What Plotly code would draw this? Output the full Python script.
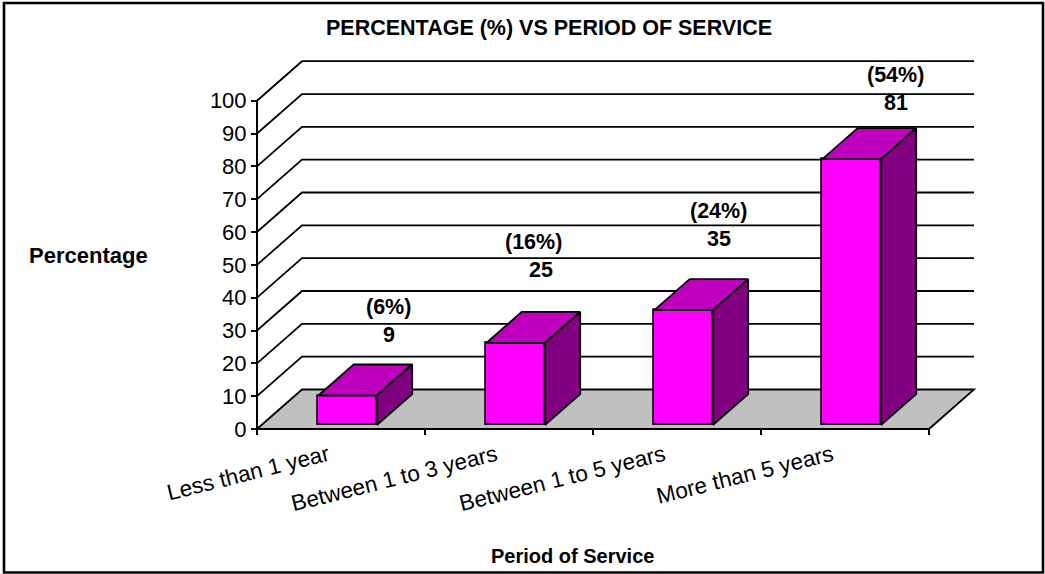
import plotly.graph_objects as go

categories = ["Less than 1 year", "Between 1 to 3 years", "Between 1 to 5 years", "More than 5 years"]
counts = [9, 25, 35, 81]
percent_labels = ["(6%)", "(16%)", "(24%)", "(54%)"]
y_ticks = [0, 10, 20, 30, 40, 50, 60, 70, 80, 90, 100]

W, H = 1045, 574
PX_X0, PX_CAT = 257.0, 168.0      # left of axis, pixels per category
PX_Y0, PX_UNIT = 429.0, 3.283     # zero line, pixels per value unit
DEPTH_X = 45.0 / PX_CAT           # depth of the box in axis units
DEPTH_Y = 39.5 / PX_UNIT
BAR_W = 58.5 / PX_CAT
D0, D1 = 0.125, 0.91              # bar front/back in the depth
BLACK = "#000000"
LW = 1.8

x_range = [-0.5 - PX_X0 / PX_CAT, -0.5 + (W - PX_X0) / PX_CAT]
y_range = [-(H - PX_Y0) / PX_UNIT, PX_Y0 / PX_UNIT]
x_left, x_right = -0.5, len(categories) - 0.5

def path(points, close=False):
    s = "M " + " L ".join(f"{a:.4f},{b:.4f}" for a, b in points)
    return s + (" Z" if close else "")

shapes = []
# floor
shapes.append(dict(type="path", layer="below", xref="x", yref="y",
                   path=path([(x_left, 0), (x_left + DEPTH_X, DEPTH_Y), (x_right + DEPTH_X, DEPTH_Y), (x_right, 0)], True),
                   fillcolor="#C0C0C0", line=dict(color=BLACK, width=LW)))
# gridlines on side + back wall
for t in y_ticks[1:]:
    shapes.append(dict(type="path", layer="below", xref="x", yref="y",
                       path=path([(x_left, t), (x_left + DEPTH_X, t + DEPTH_Y), (x_right + DEPTH_X, t + DEPTH_Y)]),
                       line=dict(color=BLACK, width=LW)))
# axis lines
shapes.append(dict(type="line", layer="below", xref="x", yref="y", x0=x_left, x1=x_left, y0=0, y1=y_ticks[-1],
                   line=dict(color=BLACK, width=LW + 0.2)))
shapes.append(dict(type="line", layer="below", xref="x", yref="y", x0=x_left, x1=x_right, y0=0, y1=0,
                   line=dict(color=BLACK, width=LW + 0.2)))
# frame
shapes.append(dict(type="rect", xref="paper", yref="paper", x0=4 / W, x1=1043 / W, y0=1 - 572.5 / H, y1=1 - 3 / H,
                   fillcolor="rgba(0,0,0,0)", line=dict(color=BLACK, width=2.6)))

fig = go.Figure()
xs = list(range(len(categories)))
front_dx = D0 * DEPTH_X + 1.0 / PX_CAT
front_dy = D0 * DEPTH_Y - 0.3
ddx = (D1 - D0) * DEPTH_X
ddy = (D1 - D0) * DEPTH_Y

fig.add_trace(go.Bar(x=[i + front_dx for i in xs], y=counts, base=[front_dy] * len(xs), width=BAR_W,
                     marker=dict(color="#FF00FF", line=dict(color=BLACK, width=LW)),
                     hovertext=categories, hoverinfo="text+y", showlegend=False))

for i, v in zip(xs, counts):
    l = i + front_dx - BAR_W / 2
    r = i + front_dx + BAR_W / 2
    b = front_dy
    t = front_dy + v
    top = [(l, t), (r, t), (r + ddx, t + ddy), (l + ddx, t + ddy), (l, t)]
    side = [(r, b), (r, t), (r + ddx, t + ddy), (r + ddx, b + ddy), (r, b)]
    for pts, col in ((top, "#BF00BF"), (side, "#800080")):
        fig.add_trace(go.Scatter(x=[p[0] for p in pts], y=[p[1] for p in pts], mode="lines", fill="toself",
                                 fillcolor=col, line=dict(color=BLACK, width=LW), hoverinfo="skip", showlegend=False))

annotations = []
LABEL_FONT = dict(family="Liberation Sans", size=21.5, color=BLACK)
label_dx_pct = [47, 24, 41, 50]
label_dx_val = [48, 32, 42, 51]
label_y_val = [28.6, 48.4, 57.9, 99.3]
for i in xs:
    annotations.append(dict(x=i + label_dx_val[i] / PX_CAT, y=label_y_val[i], xref="x", yref="y", showarrow=False,
                            text=f"<b>{counts[i]}</b>", font=LABEL_FONT, xanchor="center", yanchor="middle"))
    annotations.append(dict(x=i + label_dx_pct[i] / PX_CAT, y=label_y_val[i] + 8.5, xref="x", yref="y", showarrow=False,
                            text=f"<b>{percent_labels[i]}</b>", font=LABEL_FONT, xanchor="center", yanchor="middle"))
annotations.append(dict(x=88 / W, y=1 - 255 / H, xref="paper", yref="paper", showarrow=False, text="<b>Percentage</b>",
                        font=dict(family="Liberation Sans", size=22, color=BLACK), xanchor="center", yanchor="middle"))
annotations.append(dict(x=572 / W, y=1 - 556 / H, xref="paper", yref="paper", showarrow=False, text="<b>Period of Service</b>",
                        font=dict(family="Liberation Sans", size=20, color=BLACK), xanchor="center", yanchor="middle"))

fig.update_layout(
    width=W, height=H, margin=dict(l=0, r=0, t=0, b=0), autosize=False,
    paper_bgcolor="white", plot_bgcolor="white", showlegend=False, bargap=0,
    title=dict(text="<b>PERCENTAGE (%) VS PERIOD OF SERVICE</b>", x=549 / W, xanchor="center",
               y=1 - 27 / H, yanchor="middle", font=dict(family="Liberation Sans", size=21.5, color=BLACK)),
    shapes=shapes, annotations=annotations,
    xaxis=dict(domain=[0, 1], range=x_range, anchor="free", position=1 - PX_Y0 / H,
               tickmode="array", tickvals=xs, ticktext=categories, tickangle=-14, ticks="",
               ticklabelshift=-13, ticklabelstandoff=8,
               minor=dict(tickmode="array", tickvals=[i - 0.5 for i in range(len(categories) + 1)], ticks="outside",
                          ticklen=5, tickwidth=1.6, tickcolor=BLACK),
               showgrid=False, zeroline=False, showline=False,
               tickfont=dict(family="Liberation Sans", size=22.5, color=BLACK)),
    yaxis=dict(domain=[0, 1], range=y_range, anchor="free", position=PX_X0 / W,
               tickmode="array", tickvals=y_ticks, ticks="outside", ticklen=6, tickwidth=1.8, tickcolor=BLACK,
               showgrid=False, zeroline=False, showline=False,
               tickfont=dict(family="Liberation Sans", size=22, color=BLACK)),
)

fig.write_html("out.html", config=dict(displayModeBar=False),
               post_script="document.body.style.margin='0';document.body.style.overflow='hidden';")
